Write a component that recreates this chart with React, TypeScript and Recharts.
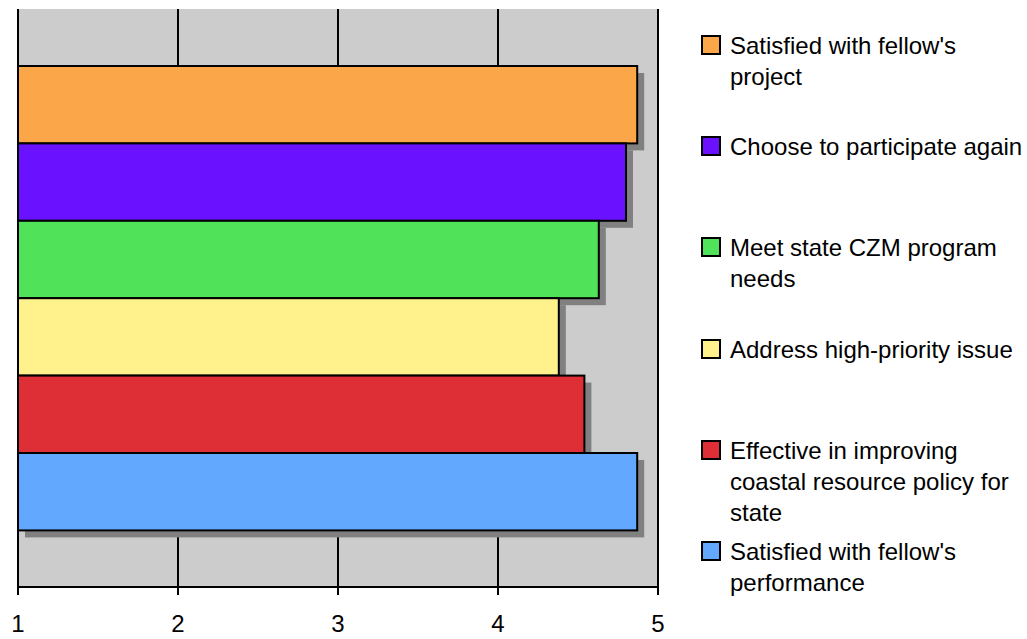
import React from 'react';
import { BarChart, Bar, XAxis, YAxis, CartesianGrid } from 'recharts';

const CATEGORIES = ['Survey'];
const SERIES_NAMES = [
  "Satisfied with fellow's project",
  'Choose to participate again',
  'Meet state CZM program needs',
  'Address high-priority issue',
  'Effective in improving coastal resource policy for state',
  "Satisfied with fellow's performance",
];
const SERIES_VALUES = [4.87, 4.8, 4.63, 4.38, 4.54, 4.87];
const SERIES_COLORS = ['#fca64a', '#6a12ff', '#50e258', '#fff28c', '#de2e36', '#62a8ff'];
const X_TICKS = [1, 2, 3, 4, 5];

const FONT = '"Liberation Sans", Arial, sans-serif';

const data = CATEGORIES.map((c) => {
  const row: Record<string, string | number> = { category: c };
  SERIES_VALUES.forEach((v, i) => {
    row['s' + i] = v;
  });
  return row;
});

const ShadowBar = (props: any) => {
  const { x, y, width, height, fill } = props;
  if (width == null || height == null) return null;
  return (
    <g>
      <rect x={x + 7} y={y + 7} width={width} height={height} fill="#808080" />
      <rect x={x} y={y} width={width} height={height} fill={fill} stroke="#000" strokeWidth={2} />
    </g>
  );
};

const LEGEND_LEFT = 701;
const LEGEND_TOP = 30;
const LEGEND_STEP = 101.2;

export default function App() {
  return (
    <div style={{ position: 'absolute', left: 0, top: 0, width: 1027, height: 639, background: '#fff' }}>
      <BarChart
        width={1027}
        height={639}
        data={data}
        layout="vertical"
        margin={{ top: 9, right: 369, bottom: 0, left: 18 }}
        barGap={0}
        barSize={77.4}
      >
        <CartesianGrid horizontal={false} vertical={true} stroke="#000" strokeWidth={2} fill="#cccccc" fillOpacity={1} />
        <XAxis
          type="number"
          domain={[1, 5]}
          ticks={X_TICKS}
          interval={0}
          allowDataOverflow
          height={52}
          tickSize={8}
          tickMargin={20}
          axisLine={{ stroke: '#000', strokeWidth: 2 }}
          tickLine={{ stroke: '#000', strokeWidth: 2 }}
          tick={{ fill: '#000', fontSize: 24, fontFamily: FONT }}
        />
        <YAxis type="category" dataKey="category" hide />
        <YAxis
          yAxisId="frame"
          type="number"
          domain={[0, 1]}
          ticks={[0, 1]}
          width={0}
          tick={false}
          tickSize={8}
          axisLine={{ stroke: '#000', strokeWidth: 2 }}
          tickLine={{ stroke: '#000', strokeWidth: 2 }}
        />
        {SERIES_NAMES.map((name, i) => (
          <Bar
            key={name}
            dataKey={'s' + i}
            name={name}
            fill={SERIES_COLORS[i]}
            isAnimationActive={false}
            shape={ShadowBar}
          />
        ))}
      </BarChart>
      {SERIES_NAMES.map((name, i) => (
        <div
          key={name}
          style={{
            position: 'absolute',
            left: LEGEND_LEFT,
            top: LEGEND_TOP + i * LEGEND_STEP,
            width: 326,
            fontFamily: FONT,
            fontSize: 24,
            lineHeight: '31px',
            color: '#000',
          }}
        >
          <div
            style={{
              position: 'absolute',
              left: 0,
              top: 5,
              width: 16,
              height: 16,
              border: '2px solid #000',
              background: SERIES_COLORS[i],
            }}
          />
          <div style={{ marginLeft: 29, width: 298 }}>{name}</div>
        </div>
      ))}
    </div>
  );
}
